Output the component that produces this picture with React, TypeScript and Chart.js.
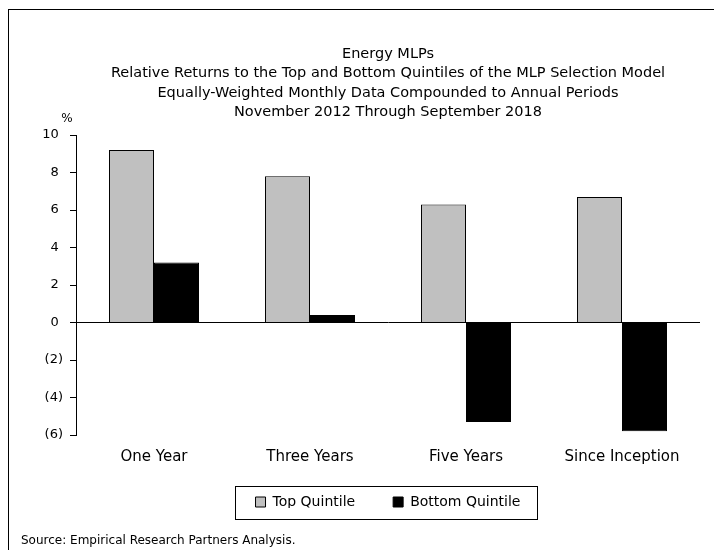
import React, { useEffect, useRef } from "react";
import { Chart, registerables } from "chart.js";

Chart.register(...registerables);

const categories = ["One Year", "Three Years", "Five Years", "Since Inception"];
const topQuintile = [9.2, 7.8, 6.3, 6.7];
const bottomQuintile = [3.2, 0.4, -5.3, -5.8];
const seriesNames = ["Top Quintile", "Bottom Quintile"];
const titleLines = [
  "Energy MLPs",
  "Relative Returns to the Top and Bottom Quintiles of the MLP Selection Model",
  "Equally-Weighted Monthly Data Compounded to Annual Periods",
  "November 2012 Through September 2018",
];
const sourceText = "Source: Empirical Research Partners Analysis.";
const yUnit = "%";
const yMin = -6;
const yMax = 10;
const yStep = 2;

const FONT = "'DejaVu Sans', sans-serif";
const LEGEND_SHIFT = 11;

const extrasPlugin = {
  id: "extras",
  afterLayout(chart: any) {
    const lg = chart.legend;
    if (lg) {
      lg.top -= LEGEND_SHIFT;
      lg.bottom -= LEGEND_SHIFT;
    }
  },
  afterDraw(chart: any) {
    const ctx = chart.ctx;
    const area = chart.chartArea;
    ctx.save();
    ctx.fillStyle = "#000";
    ctx.font = `12px ${FONT}`;
    ctx.textAlign = "center";
    ctx.textBaseline = "middle";
    ctx.fillText(yUnit, area.left - 9, area.top - 16);
    const lg = chart.legend;
    if (lg && lg.legendHitBoxes && lg.legendHitBoxes.length) {
      const hb = lg.legendHitBoxes;
      const first = hb[0];
      const last = hb[hb.length - 1];
      const cy = first.top + first.height / 2;
      const l = Math.round(first.left - 21) + 0.5;
      const r = Math.round(last.left + last.width + 17) + 0.5;
      const t = Math.round(cy - 16.5) + 0.5;
      const b = Math.round(cy + 16.5) + 0.5;
      ctx.strokeStyle = "#000";
      ctx.lineWidth = 1;
      ctx.strokeRect(l, t, r - l, b - t);
    }
    ctx.restore();
  },
};

export default function App() {
  const ref = useRef<HTMLCanvasElement | null>(null);
  useEffect(() => {
    if (!ref.current) return;
    const chart = new Chart(ref.current, {
      type: "bar",
      data: {
        labels: categories,
        datasets: [
          {
            label: seriesNames[0],
            data: topQuintile,
            backgroundColor: "#C0C0C0",
            borderColor: "#000",
            borderWidth: 1,
            categoryPercentage: 0.577,
            barPercentage: 1,
          },
          {
            label: seriesNames[1],
            data: bottomQuintile,
            backgroundColor: "#000",
            borderColor: "#000",
            borderWidth: 1,
            categoryPercentage: 0.577,
            barPercentage: 1,
          },
        ],
      },
      options: {
        responsive: false,
        animation: false,
        layout: { padding: { left: 21, right: 14, top: 0, bottom: 0 } },
        scales: {
          x: {
            afterFit: (scale: any) => {
              scale.height = 33;
            },
            grid: { display: false, drawTicks: false },
            border: { display: false },
            ticks: { color: "#000", font: { family: FONT, size: 15 }, padding: 13, maxRotation: 0 },
          },
          y: {
            min: yMin,
            max: yMax,
            afterFit: (scale: any) => {
              scale.width = 55;
            },
            ticks: {
              stepSize: yStep,
              color: "#000",
              padding: 7,
              font: { family: FONT, size: 13 },
              callback: (v: any) => (Number(v) < 0 ? `(${-Number(v)})` : `${v} `),
            },
            grid: {
              drawOnChartArea: true,
              drawTicks: true,
              tickLength: 6,
              tickColor: "#000",
              color: (c: any) => (c.tick && c.tick.value === 0 ? "#000" : "rgba(0,0,0,0)"),
              lineWidth: 1,
            },
            border: { display: true, color: "#000", width: 1 },
          },
        },
        plugins: {
          title: {
            display: true,
            text: titleLines,
            fullSize: false,
            color: "#000",
            font: { family: FONT, size: 14.5, weight: "normal", lineHeight: 1.345 },
            padding: { top: 44, bottom: 13 },
          },
          legend: {
            display: true,
            position: "bottom",
            fullSize: false,
            maxHeight: 51,
            labels: {
              boxWidth: 10,
              boxHeight: 10,
              padding: 38,
              color: "#000",
              font: { family: FONT, size: 14 },
            },
          },
          subtitle: {
            display: true,
            text: sourceText,
            position: "bottom",
            align: "start",
            fullSize: true,
            color: "#000",
            font: { family: FONT, size: 12, weight: "normal", lineHeight: 1.2 },
            padding: { top: 15, bottom: 1.6 },
          },
          tooltip: { enabled: false },
        },
      },
      plugins: [extrasPlugin],
    } as any);
    return () => chart.destroy();
  }, []);
  return (
    <div style={{ position: "fixed", left: 0, top: 0, width: 714, height: 550, background: "#fff" }}>
      <div
        style={{
          position: "absolute",
          left: 8,
          top: 9,
          width: 705,
          height: 540,
          borderLeft: "1px solid #000",
          borderTop: "1px solid #000",
        }}
      />
      <canvas ref={ref} width={714} height={550} style={{ position: "absolute", left: 0, top: 0 }} />
    </div>
  );
}
